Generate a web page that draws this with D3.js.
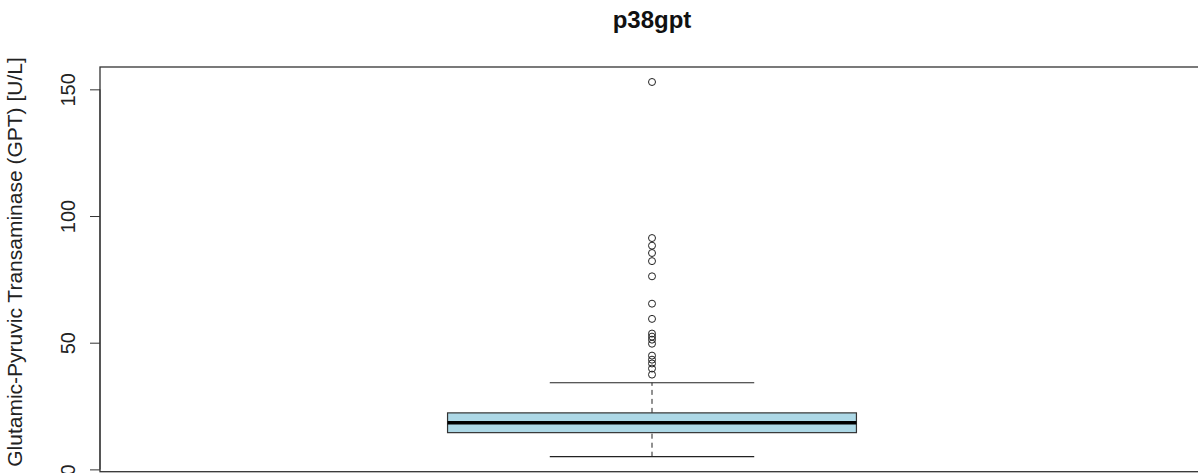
<!DOCTYPE html>
<html>
<head>
<meta charset="utf-8">
<script src="https://cdn.jsdelivr.net/npm/d3@7"></script>
<style>
  body { margin: 0; background: #fff; }
  text { font-family: "Liberation Sans", Arial, sans-serif; }
</style>
</head>
<body>
<svg id="chart" width="1198" height="473"></svg>
<script>
// values
var title = "p38gpt";
var yLabel = "Glutamic-Pyruvic Transaminase (GPT) [U/L]";
var boxStats = [5.0, 14.5, 18.4, 22.3, 34.2]; // low whisker, q1, median, q3, high whisker
var outliers = [37.4, 39.8, 41.8, 43.3, 44.9, 49.6, 51.2, 52.4, 53.6, 59.4, 65.4, 76.2, 82.2, 85.4, 88.3, 91.3, 152.9];
var yTicks = [0, 50, 100, 150];

var plot = {left: 100, top: 67, right: 1204, bottom: 471.7};

var svg = d3.select("#chart");

// R style range: data range plus 4% each side
var lo = d3.min([boxStats[0]].concat(outliers));
var hi = d3.max([boxStats[4]].concat(outliers));
var pad = (hi - lo) * 0.04;

var yScale = d3.scaleLinear()
    .domain([lo - pad, hi + pad])
    .range([plot.bottom, plot.top]);

var xScale = d3.scaleLinear()
    .domain([0.46, 1.54])
    .range([plot.left, plot.right]);

var cx = xScale(1);

// whiskers (dashed)
svg.append("line")
    .attr("x1", cx).attr("x2", cx)
    .attr("y1", yScale(boxStats[3])).attr("y2", yScale(boxStats[4]))
    .style("stroke", "#222")
    .style("stroke-dasharray", "5,4");
svg.append("line")
    .attr("x1", cx).attr("x2", cx)
    .attr("y1", yScale(boxStats[0])).attr("y2", yScale(boxStats[1]))
    .style("stroke", "#222")
    .style("stroke-dasharray", "5,4");

// staples
[boxStats[0], boxStats[4]].forEach(function(v)
{
    svg.append("line")
        .attr("x1", xScale(0.9)).attr("x2", xScale(1.1))
        .attr("y1", yScale(v)).attr("y2", yScale(v))
        .style("stroke", "#222")
        .style("stroke-width", 1.2);
});

// box
svg.append("rect")
    .attr("x", xScale(0.8))
    .attr("width", xScale(1.2) - xScale(0.8))
    .attr("y", yScale(boxStats[3]))
    .attr("height", yScale(boxStats[1]) - yScale(boxStats[3]))
    .style("fill", "#add8e6")
    .style("stroke", "#333")
    .style("stroke-width", 1.2);

// median
svg.append("line")
    .attr("x1", xScale(0.8)).attr("x2", xScale(1.2))
    .attr("y1", yScale(boxStats[2])).attr("y2", yScale(boxStats[2]))
    .style("stroke", "#000")
    .style("stroke-width", 3.4);

// outliers
svg.selectAll("circle.out")
    .data(outliers)
    .enter()
    .append("circle")
        .attr("class", "out")
        .attr("cx", cx)
        .attr("cy", function(d){ return yScale(d); })
        .attr("r", 3.5)
        .style("fill", "none")
        .style("stroke", "#222")
        .style("stroke-width", 1);

// frame
svg.append("rect")
    .attr("x", plot.left)
    .attr("y", plot.top)
    .attr("width", plot.right - plot.left)
    .attr("height", plot.bottom - plot.top)
    .style("fill", "none")
    .style("stroke", "#333")
    .style("stroke-width", 1.3);

// y axis
var axis = svg.append("g")
    .attr("transform", "translate(" + plot.left + ",0)")
    .call(d3.axisLeft(yScale).tickValues(yTicks).tickSize(10).tickFormat(d3.format("d")));

axis.select(".domain")
    .attr("d", "M0," + yScale(yTicks[0]) + "V" + yScale(yTicks[yTicks.length - 1]))
    .style("stroke", "#333");
axis.selectAll(".tick line").style("stroke", "#333");
axis.selectAll(".tick text")
    .attr("x", null).attr("dy", null)
    .attr("transform", "translate(-25,0) rotate(-90)")
    .style("text-anchor", "middle")
    .style("font-size", "20px")
    .style("fill", "#222");

// labels
svg.append("text")
    .attr("transform", "translate(22,262) rotate(-90)")
    .style("text-anchor", "middle")
    .style("font-size", "21px")
    .style("fill", "#222")
    .text(yLabel);

svg.append("text")
    .attr("x", cx)
    .attr("y", 28)
    .style("text-anchor", "middle")
    .style("font-size", "24px")
    .style("font-weight", "bold")
    .style("fill", "#111")
    .text(title);
</script>
</body>
</html>
